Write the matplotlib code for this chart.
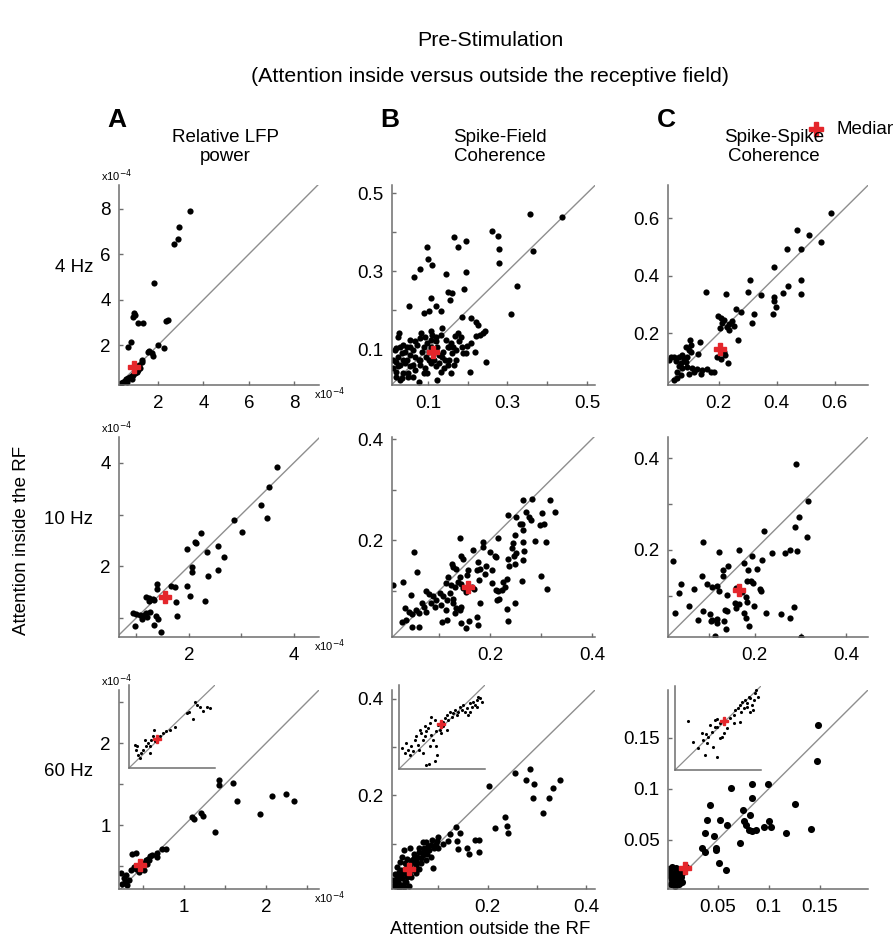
import matplotlib.pyplot as plt
from matplotlib.lines import Line2D

plt.rcParams['font.family'] = ['Liberation Sans', 'DejaVu Sans']

W, H = 893, 942

# ---------------- data ----------------
# column A: relative LFP power (x1e-4)
lfp4_x = [3.41, 2.94, 2.89, 2.71, 1.83, 0.93, 0.97, 0.90, 1.12, 1.34, 2.35, 2.45, 0.80, 0.65,
          2.00, 2.26, 1.61, 1.73, 1.78, 1.55, 1.27, 1.16, 1.27, 0.38, 0.46, 0.53, 0.60, 0.68,
          0.75, 0.83, 0.90, 0.97, 1.05, 1.12, 0.63, 0.83, 1.19]
lfp4_y = [7.92, 7.18, 6.67, 6.43, 4.72, 3.42, 3.32, 3.25, 2.98, 2.96, 3.07, 3.10, 2.12, 1.93,
          2.00, 1.88, 1.75, 1.63, 1.53, 1.68, 1.34, 1.12, 1.26, 0.31, 0.38, 0.43, 0.49, 0.53,
          0.60, 0.63, 0.68, 0.75, 0.82, 0.90, 0.38, 0.52, 0.97]
lfp4_med = (0.95, 1.05)

lfp10_x = [3.68, 3.53, 3.38, 3.48, 2.86, 3.01, 2.24, 2.11, 2.14, 1.96, 2.56, 2.34, 2.67, 2.07,
           2.07, 2.55, 2.37, 1.96, 2.02, 2.30, 1.67, 1.73, 1.40, 1.40, 1.75, 1.78, 1.18, 1.25,
           1.31, 1.25, 1.33, 0.94, 1.00, 1.07, 1.18, 1.21, 1.27, 1.38, 1.42, 0.97, 1.34, 1.47,
           1.10, 1.15]
lfp10_y = [3.91, 3.54, 3.19, 2.93, 2.90, 2.67, 2.64, 2.46, 2.45, 2.34, 2.40, 2.28, 2.18, 1.99,
           1.88, 1.92, 1.82, 1.62, 1.42, 1.33, 1.62, 1.59, 1.65, 1.55, 1.31, 1.04, 1.40, 1.38,
           1.37, 1.33, 1.35, 1.09, 1.08, 1.05, 1.10, 1.01, 1.12, 1.03, 0.97, 0.85, 0.86, 0.73,
           0.98, 1.06]
lfp10_med = (1.55, 1.40)

lfp60_x = [1.42, 1.43, 1.60, 1.64, 1.93, 2.08, 2.25, 2.34, 1.10, 1.12, 1.20, 1.23, 1.38, 0.77,
           0.66, 0.58, 0.55, 0.41, 0.51, 0.53, 0.22, 0.26, 0.29, 0.32, 0.27, 0.35, 0.38, 0.41,
           0.48, 0.54, 0.57, 0.67, 0.36, 0.73, 0.60, 0.44, 0.51, 0.24, 0.30]
lfp60_y = [1.55, 1.49, 1.52, 1.30, 1.14, 1.35, 1.38, 1.30, 1.10, 1.08, 1.15, 1.11, 0.91, 0.71,
           0.66, 0.62, 0.59, 0.66, 0.54, 0.57, 0.41, 0.35, 0.39, 0.33, 0.31, 0.45, 0.49, 0.47,
           0.51, 0.53, 0.57, 0.61, 0.65, 0.71, 0.63, 0.43, 0.45, 0.28, 0.27]
lfp60_med = (0.46, 0.51)

# inset of A 60 Hz (no scale given, normalised units)
lfp60_in_x = [0.066, 0.086, 0.105, 0.125, 0.144, 0.163, 0.202, 0.222, 0.241, 0.261, 0.280,
              0.300, 0.358, 0.397, 0.436, 0.292, 0.475, 0.533, 0.669, 0.700, 0.747, 0.767,
              0.786, 0.825, 0.856, 0.903, 0.942, 0.183, 0.241, 0.093]
lfp60_in_y = [0.28, 0.22, 0.16, 0.12, 0.18, 0.22, 0.26, 0.30, 0.27, 0.34, 0.38, 0.32, 0.38,
              0.42, 0.44, 0.46, 0.46, 0.49, 0.66, 0.67, 0.59, 0.79, 0.76, 0.74, 0.69, 0.74,
              0.72, 0.34, 0.18, 0.27]
lfp60_in_med = (0.331, 0.35)

# column B: spike-field coherence
sfc4_x = [0.357, 0.438, 0.261, 0.276, 0.280, 0.280, 0.363, 0.325, 0.310, 0.165, 0.195, 0.177,
          0.098, 0.101, 0.111, 0.081, 0.066, 0.146, 0.195, 0.191, 0.151, 0.161, 0.109, 0.156,
          0.120, 0.053, 0.133, 0.091, 0.104, 0.186, 0.209, 0.222, 0.226, 0.244, 0.239, 0.231,
          0.222, 0.135, 0.109, 0.111, 0.109, 0.083, 0.028, 0.026, 0.175, 0.168, 0.179, 0.186,
          0.188, 0.199, 0.209, 0.158, 0.154, 0.160, 0.139, 0.135, 0.143, 0.120, 0.124, 0.097,
          0.090, 0.085, 0.096, 0.074, 0.064, 0.056, 0.047, 0.034, 0.026, 0.020, 0.030, 0.013,
          0.043, 0.056, 0.068, 0.081, 0.094, 0.107, 0.120, 0.132, 0.158, 0.098, 0.197, 0.218,
          0.245, 0.207, 0.038, 0.051, 0.021, 0.064, 0.030, 0.077, 0.124, 0.047, 0.068, 0.081,
          0.128, 0.150, 0.171, 0.103, 0.056, 0.038, 0.021,
          0.017, 0.030, 0.043, 0.056, 0.068, 0.081, 0.094, 0.107, 0.120, 0.132, 0.145, 0.150,
          0.162, 0.171, 0.184, 0.026, 0.038, 0.051, 0.064, 0.077, 0.090, 0.103, 0.115, 0.128,
          0.141, 0.154, 0.167, 0.013, 0.021, 0.034]
sfc4_y = [0.446, 0.440, 0.403, 0.391, 0.356, 0.321, 0.353, 0.262, 0.190, 0.387, 0.378, 0.361,
          0.363, 0.331, 0.316, 0.306, 0.286, 0.293, 0.297, 0.254, 0.246, 0.245, 0.231, 0.226,
          0.211, 0.212, 0.199, 0.192, 0.197, 0.182, 0.179, 0.171, 0.161, 0.148, 0.141, 0.137,
          0.134, 0.154, 0.147, 0.137, 0.124, 0.143, 0.141, 0.132, 0.141, 0.135, 0.120, 0.107,
          0.090, 0.109, 0.117, 0.117, 0.107, 0.090, 0.094, 0.081, 0.073, 0.120, 0.107, 0.117,
          0.107, 0.094, 0.081, 0.111, 0.098, 0.085, 0.073, 0.090, 0.081, 0.068, 0.060, 0.051,
          0.064, 0.056, 0.047, 0.060, 0.051, 0.064, 0.056, 0.043, 0.038, 0.038, 0.091, 0.094,
          0.067, 0.041, 0.038, 0.030, 0.030, 0.030, 0.021, 0.017, 0.021, 0.107, 0.081, 0.073,
          0.085, 0.060, 0.073, 0.094, 0.124, 0.111, 0.103,
          0.098, 0.107, 0.094, 0.107, 0.120, 0.128, 0.132, 0.107, 0.132, 0.137, 0.124, 0.107,
          0.107, 0.098, 0.132, 0.056, 0.073, 0.038, 0.060, 0.073, 0.038, 0.073, 0.073, 0.064,
          0.051, 0.073, 0.060, 0.073, 0.043, 0.026]
sfc4_med = (0.114, 0.094)

sfc10_x = [0.264, 0.282, 0.317, 0.328, 0.271, 0.277, 0.280, 0.236, 0.252, 0.258, 0.262, 0.265,
           0.302, 0.298, 0.306, 0.249, 0.264, 0.289, 0.310, 0.215, 0.246, 0.243, 0.266, 0.236,
           0.247, 0.252, 0.238, 0.249, 0.264, 0.141, 0.187, 0.186, 0.166, 0.200, 0.209, 0.212,
           0.177, 0.174, 0.180, 0.192, 0.190, 0.144, 0.147, 0.125, 0.128, 0.134, 0.157, 0.155,
           0.052, 0.057, 0.118, 0.113, 0.123, 0.131, 0.138, 0.141, 0.144, 0.148, 0.154, 0.164,
           0.169, 0.179, 0.010, 0.029, 0.046, 0.074, 0.081, 0.088, 0.095, 0.085, 0.092, 0.102,
           0.108, 0.116, 0.105, 0.113, 0.122, 0.127, 0.128, 0.134, 0.141, 0.143, 0.131, 0.066,
           0.070, 0.075, 0.061, 0.056, 0.033, 0.041, 0.048, 0.036, 0.028, 0.048, 0.061, 0.107,
           0.116, 0.143, 0.153, 0.159, 0.174, 0.180, 0.177, 0.205, 0.212, 0.215, 0.218, 0.223,
           0.226, 0.233, 0.229, 0.214, 0.235, 0.249, 0.233, 0.262, 0.300, 0.312, 0.205]
sfc10_y = [0.280, 0.281, 0.279, 0.256, 0.256, 0.246, 0.241, 0.249, 0.246, 0.233, 0.232, 0.220,
           0.254, 0.230, 0.232, 0.210, 0.197, 0.199, 0.197, 0.205, 0.194, 0.184, 0.178, 0.164,
           0.169, 0.174, 0.149, 0.154, 0.161, 0.205, 0.196, 0.187, 0.181, 0.177, 0.169, 0.167,
           0.157, 0.141, 0.144, 0.149, 0.134, 0.169, 0.164, 0.154, 0.148, 0.144, 0.141, 0.131,
           0.176, 0.138, 0.128, 0.115, 0.112, 0.108, 0.118, 0.128, 0.114, 0.105, 0.098, 0.107,
           0.104, 0.121, 0.112, 0.118, 0.092, 0.099, 0.094, 0.089, 0.082, 0.076, 0.069, 0.095,
           0.089, 0.082, 0.072, 0.062, 0.095, 0.085, 0.076, 0.066, 0.062, 0.069, 0.056, 0.076,
           0.069, 0.059, 0.056, 0.062, 0.066, 0.059, 0.054, 0.042, 0.038, 0.028, 0.028, 0.039,
           0.043, 0.036, 0.026, 0.041, 0.049, 0.076, 0.033, 0.116, 0.102, 0.099, 0.085, 0.102,
           0.118, 0.123, 0.108, 0.083, 0.041, 0.077, 0.064, 0.120, 0.129, 0.103, 0.141]
sfc10_med = (0.157, 0.108)

sfc60_x = [0.256, 0.286, 0.278, 0.295, 0.292, 0.324, 0.333, 0.347, 0.313, 0.202, 0.235, 0.216,
           0.240, 0.242, 0.135, 0.123, 0.145, 0.137, 0.139, 0.159, 0.162, 0.175, 0.183, 0.182,
           0.097, 0.099, 0.068, 0.075, 0.085, 0.092, 0.081, 0.071, 0.061, 0.050, 0.043, 0.030,
           0.026, 0.037, 0.047, 0.057, 0.068, 0.078, 0.085, 0.075, 0.064, 0.054, 0.043, 0.033,
           0.023, 0.016, 0.021, 0.030, 0.040, 0.050, 0.061, 0.023, 0.012, 0.016, 0.026, 0.037,
           0.043, 0.009, 0.019, 0.033, 0.088, 0.095, 0.012, 0.020, 0.030, 0.015, 0.025, 0.040,
           0.035, 0.090,
           0.020, 0.030, 0.045, 0.055, 0.065, 0.070, 0.080, 0.060, 0.050, 0.035, 0.025, 0.015,
           0.010, 0.045, 0.055, 0.100, 0.110, 0.120]
sfc60_y = [0.246, 0.255, 0.231, 0.224, 0.195, 0.195, 0.215, 0.231, 0.164, 0.219, 0.155, 0.133,
           0.136, 0.122, 0.135, 0.119, 0.122, 0.105, 0.088, 0.090, 0.079, 0.108, 0.108, 0.083,
           0.105, 0.114, 0.104, 0.104, 0.097, 0.090, 0.086, 0.090, 0.083, 0.079, 0.090, 0.086,
           0.072, 0.069, 0.066, 0.073, 0.076, 0.079, 0.073, 0.066, 0.059, 0.055, 0.052, 0.059,
           0.062, 0.052, 0.041, 0.045, 0.041, 0.045, 0.048, 0.035, 0.038, 0.030, 0.028, 0.030,
           0.035, 0.024, 0.021, 0.021, 0.107, 0.099, 0.012, 0.008, 0.010, 0.018, 0.015, 0.012,
           0.020, 0.050,
           0.030, 0.040, 0.060, 0.065, 0.070, 0.085, 0.095, 0.090, 0.070, 0.050, 0.045, 0.025,
           0.015, 0.030, 0.040, 0.090, 0.100, 0.105]
sfc60_med = (0.040, 0.048)

sfc60_in_x = [0.039, 0.066, 0.105, 0.125, 0.086, 0.144, 0.163, 0.183, 0.202, 0.222, 0.233,
              0.261, 0.241, 0.280, 0.300, 0.319, 0.300, 0.339, 0.358, 0.377, 0.397, 0.436,
              0.444, 0.416, 0.350, 0.319, 0.377, 0.416, 0.455, 0.475, 0.514, 0.533, 0.553,
              0.572, 0.591, 0.611, 0.630, 0.650, 0.669, 0.689, 0.708, 0.728, 0.747, 0.767,
              0.786, 0.805, 0.825, 0.844, 0.864, 0.883, 0.903, 0.922, 0.942, 0.961, 0.903,
              0.825, 0.514, 0.494, 0.553, 0.436, 0.358, 0.280]
sfc60_in_y = [0.249, 0.190, 0.229, 0.170, 0.308, 0.269, 0.209, 0.348, 0.387, 0.289, 0.229,
              0.427, 0.466, 0.348, 0.387, 0.447, 0.506, 0.486, 0.545, 0.407, 0.348, 0.269,
              0.170, 0.091, 0.063, 0.051, 0.625, 0.585, 0.526, 0.466, 0.565, 0.605, 0.644,
              0.585, 0.684, 0.625, 0.664, 0.704, 0.644, 0.684, 0.743, 0.704, 0.763, 0.684,
              0.723, 0.644, 0.783, 0.743, 0.802, 0.763, 0.822, 0.862, 0.842, 0.802, 0.743,
              0.684, 0.506, 0.427, 0.466, 0.447, 0.269, 0.190]
sfc60_in_med = (0.486, 0.538)

# column C: spike-spike coherence
ssc4_x = [0.586, 0.471, 0.511, 0.552, 0.437, 0.483, 0.389, 0.307, 0.483, 0.483, 0.439, 0.423,
          0.389, 0.391, 0.397, 0.388, 0.345, 0.302, 0.322, 0.314, 0.276, 0.259, 0.224, 0.155,
          0.198, 0.207, 0.218, 0.213, 0.236, 0.247, 0.253, 0.205, 0.228, 0.236, 0.268, 0.100,
          0.106, 0.136, 0.130, 0.195, 0.207, 0.218, 0.221, 0.232, 0.086, 0.098, 0.103, 0.072,
          0.034, 0.046, 0.063, 0.080, 0.092, 0.029, 0.052, 0.069, 0.086, 0.063, 0.075, 0.092,
          0.109, 0.126, 0.144, 0.161, 0.172, 0.184, 0.057, 0.069, 0.098, 0.115, 0.138, 0.057,
          0.046]
ssc4_y = [0.620, 0.560, 0.543, 0.517, 0.495, 0.495, 0.430, 0.384, 0.386, 0.336, 0.365, 0.340,
          0.325, 0.313, 0.293, 0.267, 0.334, 0.342, 0.267, 0.236, 0.275, 0.284, 0.336, 0.345,
          0.261, 0.253, 0.246, 0.235, 0.233, 0.244, 0.227, 0.218, 0.221, 0.212, 0.177, 0.175,
          0.158, 0.169, 0.129, 0.118, 0.110, 0.135, 0.126, 0.097, 0.152, 0.143, 0.135, 0.124,
          0.118, 0.118, 0.118, 0.112, 0.118, 0.106, 0.104, 0.095, 0.101, 0.086, 0.078, 0.083,
          0.078, 0.074, 0.072, 0.074, 0.066, 0.066, 0.066, 0.055, 0.060, 0.066, 0.060, 0.046,
          0.037]
ssc4_med = (0.205, 0.147)

ssc10_x = [0.290, 0.317, 0.297, 0.288, 0.315, 0.220, 0.087, 0.122, 0.166, 0.195, 0.215, 0.237,
           0.266, 0.277, 0.293, 0.021, 0.176, 0.131, 0.142, 0.130, 0.186, 0.205, 0.191, 0.183,
           0.196, 0.086, 0.040, 0.035, 0.067, 0.096, 0.106, 0.118, 0.122, 0.140, 0.159, 0.173,
           0.181, 0.184, 0.166, 0.157, 0.160, 0.211, 0.213, 0.057, 0.027, 0.087, 0.102, 0.106,
           0.117, 0.104, 0.117, 0.077, 0.135, 0.140, 0.133, 0.176, 0.181, 0.188, 0.198, 0.225,
           0.257, 0.277, 0.285, 0.137, 0.113, 0.300]
ssc10_y = [0.389, 0.308, 0.271, 0.250, 0.229, 0.242, 0.218, 0.195, 0.200, 0.186, 0.178, 0.194,
           0.194, 0.200, 0.198, 0.175, 0.171, 0.156, 0.164, 0.142, 0.156, 0.158, 0.133, 0.131,
           0.127, 0.143, 0.126, 0.105, 0.114, 0.126, 0.120, 0.122, 0.111, 0.102, 0.116, 0.109,
           0.098, 0.087, 0.082, 0.085, 0.073, 0.115, 0.111, 0.078, 0.062, 0.067, 0.060, 0.047,
           0.048, 0.045, 0.040, 0.047, 0.069, 0.067, 0.045, 0.063, 0.051, 0.034, 0.078, 0.062,
           0.060, 0.052, 0.075, 0.028, 0.012, 0.010]
ssc10_med = (0.165, 0.113)

ssc60_x = [0.148, 0.147, 0.141, 0.126, 0.099, 0.084, 0.063, 0.084, 0.082, 0.075, 0.043, 0.040,
           0.052, 0.059, 0.038, 0.046, 0.076, 0.078, 0.081, 0.084, 0.088, 0.095, 0.100, 0.102,
           0.117, 0.072, 0.035, 0.038, 0.048, 0.048, 0.051, 0.058, 0.0025, 0.0057, 0.009,
           0.012, 0.007, 0.0107, 0.0041, 0.0139, 0.009, 0.0057, 0.0025, 0.0156, 0.0189, 0.004,
           0.008, 0.012, 0.006, 0.015, 0.010]
ssc60_y = [0.163, 0.127, 0.060, 0.085, 0.105, 0.105, 0.101, 0.091, 0.074, 0.079, 0.084, 0.069,
           0.069, 0.064, 0.057, 0.054, 0.068, 0.064, 0.059, 0.058, 0.059, 0.062, 0.068, 0.062,
           0.057, 0.047, 0.042, 0.038, 0.042, 0.040, 0.027, 0.020, 0.0208, 0.0234, 0.0218,
           0.0201, 0.0169, 0.0152, 0.0136, 0.0129, 0.0110, 0.0103, 0.0169, 0.0169, 0.0234,
           0.006, 0.004, 0.006, 0.009, 0.008, 0.012]
ssc60_med = (0.018, 0.022)

ssc60_in_x = [0.156, 0.206, 0.272, 0.350, 0.486, 0.447, 0.389, 0.428, 0.409, 0.370, 0.331,
              0.362, 0.311, 0.467, 0.494, 0.518, 0.525, 0.545, 0.467, 0.494, 0.642, 0.681,
              0.700, 0.728, 0.759, 0.767, 0.751, 0.681, 0.778, 0.817, 0.837, 0.856, 0.875,
              0.895, 0.914, 0.934, 0.946, 0.961, 0.907, 0.837, 0.798, 0.868, 0.603, 0.564]
ssc60_in_y = [0.583, 0.337, 0.258, 0.179, 0.159, 0.270, 0.397, 0.456, 0.536, 0.317, 0.357,
              0.429, 0.444, 0.516, 0.508, 0.563, 0.377, 0.397, 0.595, 0.603, 0.615, 0.655,
              0.714, 0.734, 0.774, 0.694, 0.575, 0.563, 0.813, 0.833, 0.794, 0.873, 0.853,
              0.774, 0.833, 0.913, 0.952, 0.873, 0.714, 0.754, 0.734, 0.694, 0.496, 0.437]
ssc60_in_med = (0.564, 0.587)

col_titles = ["Relative LFP\npower", "Spike-Field\nCoherence", "Spike-Spike\nCoherence"]
row_titles = ["4 Hz", "10 Hz", "60 Hz"]
letters = ["A", "B", "C"]

# ---------------- figure ----------------
AX_COLOR = '#6e6e6e'
DIAG = '#8e8e8e'
RED = '#e4262b'

fig = plt.figure(figsize=(W / 100, H / 100), dpi=100)


def box(x0, y0, x1, y1):
    # pixel box (top-left origin) -> figure fraction rect
    return [x0 / W, 1 - y1 / H, (x1 - x0) / W, (y1 - y0) / H]


def style(ax):
    for s in ['top', 'right']:
        ax.spines[s].set_visible(False)
    for s in ['left', 'bottom']:
        ax.spines[s].set_color(AX_COLOR)
        ax.spines[s].set_linewidth(1.1)
    ax.tick_params(direction='in', length=3, width=1, color=AX_COLOR, labelsize=13.5)
    ax.tick_params(axis='x', pad=7)
    ax.tick_params(axis='y', pad=6)
    ax.patch.set_alpha(0)


def panel(pos, xs, ys, med, xlim, ylim, ticks, labels, size=20):
    ax = fig.add_axes(box(*pos))
    style(ax)
    lo = min(xlim[0], ylim[0])
    hi = max(xlim[1], ylim[1])
    ax.plot([lo, hi], [lo, hi], color=DIAG, lw=1, zorder=1)
    ax.scatter(xs, ys, s=size, c='black', linewidths=0, zorder=2)
    ax.plot(med[0], med[1], marker='P', ms=8.5, color=RED, mec=RED, ls='none', zorder=3)
    ax.set_xlim(xlim)
    ax.set_ylim(ylim)
    ax.set_xticks(ticks)
    ax.set_xticklabels(labels)
    ax.set_yticks(ticks)
    ax.set_yticklabels(labels)
    return ax


def inset(pos, xs, ys, med):
    ax = fig.add_axes(box(*pos))
    for s in ['top', 'right']:
        ax.spines[s].set_visible(False)
    for s in ['left', 'bottom']:
        ax.spines[s].set_color(AX_COLOR)
        ax.spines[s].set_linewidth(1.1)
    ax.set_xticks([])
    ax.set_yticks([])
    ax.patch.set_alpha(0)
    ax.plot([0, 1], [0, 1], color=DIAG, lw=0.9, zorder=1)
    ax.scatter(xs, ys, s=5, c='black', linewidths=0, zorder=2)
    ax.plot(med[0], med[1], marker='P', ms=5.5, color=RED, mec=RED, ls='none', zorder=3)
    ax.set_xlim(0, 1)
    ax.set_ylim(0, 1)


cols = [(119, 319), (392, 595), (668, 868)]
rows = [(185, 385), (437, 637), (690, 889)]


def pos(r, c):
    return (cols[c][0], rows[r][0], cols[c][1], rows[r][1])


panel(pos(0, 0), lfp4_x, lfp4_y, lfp4_med, (0.27, 9.1), (0.24, 9.05),
      [2, 4, 6, 8], ['2', '4', '6', '8'])
panel(pos(1, 0), lfp10_x, lfp10_y, lfp10_med, (0.67, 4.48), (0.63, 4.5),
      [1, 2, 3, 4], ['', '2', '', '4'])
panel(pos(2, 0), lfp60_x, lfp60_y, lfp60_med, (0.2, 2.65), (0.22, 2.65),
      [0.5, 1, 1.5, 2, 2.5], ['', '1', '', '2', ''])
panel(pos(0, 1), sfc4_x, sfc4_y, sfc4_med, (0.01, 0.52), (0.0085, 0.521),
      [0.1, 0.2, 0.3, 0.4, 0.5], ['0.1', '', '0.3', '', '0.5'])
panel(pos(1, 1), sfc10_x, sfc10_y, sfc10_med, (0.008, 0.406), (0.009, 0.404),
      [0.1, 0.2, 0.3, 0.4], ['', '0.2', '', '0.4'])
panel(pos(2, 1), sfc60_x, sfc60_y, sfc60_med, (0.006, 0.418), (0.006, 0.418),
      [0.1, 0.2, 0.3, 0.4], ['', '0.2', '', '0.4'])
panel(pos(0, 2), ssc4_x, ssc4_y, ssc4_med, (0.025, 0.715), (0.02, 0.716),
      [0.2, 0.4, 0.6], ['0.2', '0.4', '0.6'])
panel(pos(1, 2), ssc10_x, ssc10_y, ssc10_med, (0.011, 0.447), (0.0096, 0.447),
      [0.1, 0.2, 0.3, 0.4], ['', '0.2', '', '0.4'])
panel(pos(2, 2), ssc60_x, ssc60_y, ssc60_med, (0.0015, 0.197), (0.0015, 0.197),
      [0.05, 0.1, 0.15], ['0.05', '0.1', '0.15'], size=26)

inset((129, 685, 215, 768), lfp60_in_x, lfp60_in_y, lfp60_in_med)
inset((399, 685, 485, 769), sfc60_in_x, sfc60_in_y, sfc60_in_med)
inset((675, 686, 761, 770), ssc60_in_x, ssc60_in_y, ssc60_in_med)


def ftext(x, y, s, **kw):
    fig.text(x / W, 1 - y / H, s, **kw)


# titles
ftext(490, 40, "Pre-Stimulation", ha='center', va='center', fontsize=15.4)
ftext(490, 77, "(Attention inside versus outside the receptive field)",
      ha='center', va='center', fontsize=15.4)

for c in range(3):
    cx = (cols[c][0] + cols[c][1]) / 2 + 6
    ftext(cx, 147, col_titles[c], ha='center', va='center', fontsize=13.5,
          linespacing=1.1)
    ftext(cols[c][0] - 2, 120, letters[c], ha='center', va='center',
          fontsize=19, fontweight='bold')

for r in range(3):
    cy = (rows[r][0] + rows[r][1]) / 2 - 18
    ftext(93, cy, row_titles[r], ha='right', va='center', fontsize=13.5)

# x10^-4 scale notes for the LFP column
for r in range(3):
    ftext(117, rows[r][0] - 9, r'x10$^{-4}$', ha='center', va='center', fontsize=8)
    ftext(314, rows[r][1] + 9, r'x10$^{-4}$', ha='left', va='center', fontsize=8)

# legend (the word runs off the right edge, as in the original)
fig.add_artist(Line2D([816 / W], [1 - 129 / H], marker='P', ms=10, color=RED,
                      mec=RED, ls='none', transform=fig.transFigure))
ftext(836, 129, 'Median', ha='left', va='center', fontsize=13.5)

# axis labels
ftext(22, 540, "Attention inside the RF", ha='center', va='center',
      rotation=90, fontsize=13.5)
ftext(490, 930, "Attention outside the RF", ha='center', va='center', fontsize=13.5)

fig.savefig("out.png", dpi=100)
